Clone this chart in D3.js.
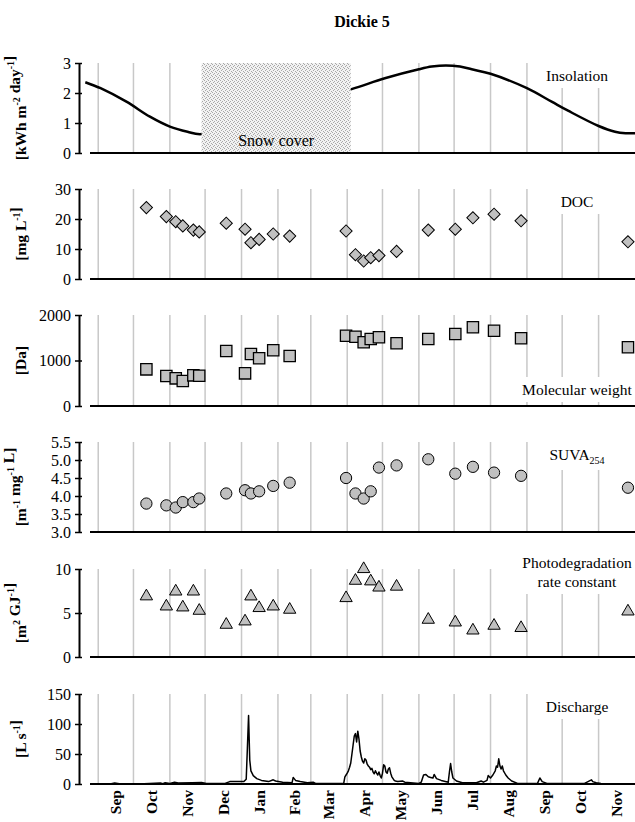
<!DOCTYPE html>
<html>
<head>
<meta charset="utf-8">
<script src="https://cdn.jsdelivr.net/npm/d3@7"></script>
<style>
body { margin: 0; background: #fff; }
text { font-family: "Times New Roman", "Liberation Serif", serif; }
</style>
</head>
<body>
<div id="chart"></div>
<script>
// ---- data ----
var title = "Dickie 5"
var monthLabels = ["Sep","Oct","Nov","Dec","Jan","Feb","Mar","Apr","May","Jun","Jul","Aug","Sep","Oct","Nov"]

// insolation [kWh m-2 day-1] (hidden under the snow box in winter)
var insolationDates = ["2004-08-21","2004-09-03","2004-09-25","2004-10-15","2004-11-01","2004-11-16","2004-11-28",
  "2005-04-04","2005-05-03","2005-06-01","2005-06-12","2005-06-24","2005-07-06","2005-07-16","2005-08-01","2005-09-01",
  "2005-09-22","2005-10-06","2005-11-01","2005-11-15","2005-11-24","2005-12-02"]
var insolation = [2.36, 2.16, 1.71, 1.21, 0.88, 0.71, 0.63,
  2.12, 2.49, 2.79, 2.88, 2.92, 2.88, 2.79, 2.64, 2.16,
  1.71, 1.41, 0.90, 0.71, 0.66, 0.66]
var snowCover = ["2004-11-28", "2005-04-04"]

// sampling dates shared by DOC, MW, SUVA and photodegradation
var sampleDates = ["2004-10-12","2004-10-29","2004-11-06","2004-11-12","2004-11-21","2004-11-26","2004-12-19",
  "2005-01-04","2005-01-09","2005-01-16","2005-01-28","2005-02-11","2005-03-31","2005-04-08","2005-04-15",
  "2005-04-21","2005-04-28","2005-05-13","2005-06-09","2005-07-02","2005-07-17","2005-08-04","2005-08-27","2005-11-26"]
var doc = [23.8, 20.8, 19.1, 17.7, 16.3, 15.7, 18.6, 16.6, 12.1, 13.2, 15.0, 14.3,
  16.0, 8.1, 6.0, 7.1, 7.8, 9.2, 16.3, 16.6, 20.4, 21.6, 19.4, 12.4]
var molWeight = [806, 659, 608, 550, 674, 666, 1209, 718, 1143, 1048, 1224, 1099,
  1545, 1523, 1400, 1473, 1510, 1378, 1473, 1582, 1730, 1655, 1488, 1290]
var suva = [3.79, 3.74, 3.68, 3.83, 3.83, 3.93, 4.07, 4.16, 4.07, 4.13, 4.28, 4.37,
  4.50, 4.07, 3.93, 4.13, 4.79, 4.85, 5.02, 4.62, 4.81, 4.65, 4.56, 4.23]
var photoRate = [6.9, 5.75, 7.45, 5.64, 7.45, 5.26, 3.67, 4.05, 6.89, 5.57, 5.75, 5.38,
  6.7, 8.67, 10.0, 8.6, 7.9, 8.0, 4.24, 3.93, 3.02, 3.56, 3.30, 5.18]

// discharge [L s-1]
var discharge = [
  ["2004-08-25",0],["2004-09-12",0.5],["2004-09-15",1.5],["2004-09-19",0.5],["2004-10-10",0.5],["2004-10-24",1.5],
  ["2004-10-26",0.5],["2004-10-28",2],["2004-11-01",1],["2004-11-05",3],["2004-11-08",1.5],["2004-11-20",2],
  ["2004-11-28",2.5],["2004-12-02",1],["2004-12-18",1],["2004-12-22",4],["2005-01-03",4],["2005-01-05",8],
  ["2005-01-06",60],["2005-01-07",114],["2005-01-08",40],["2005-01-09",22],["2005-01-11",14],["2005-01-14",9],
  ["2005-01-18",6],["2005-01-24",4],["2005-01-28",7],["2005-01-30",5],["2005-02-05",3],["2005-02-13",2],
  ["2005-02-14",11],["2005-02-16",6],["2005-02-20",4],["2005-02-26",2],["2005-03-03",3],["2005-03-05",1],
  ["2005-03-29",1],["2005-03-30",12],["2005-03-31",15],["2005-04-01",18],["2005-04-02",22],["2005-04-03",28],
  ["2005-04-04",35],["2005-04-05",50],["2005-04-06",65],["2005-04-07",80],["2005-04-08",84],["2005-04-09",70],
  ["2005-04-10",88],["2005-04-11",75],["2005-04-12",55],["2005-04-13",45],["2005-04-14",38],["2005-04-15",35],
  ["2005-04-16",42],["2005-04-17",40],["2005-04-18",33],["2005-04-19",30],["2005-04-20",28],["2005-04-21",24],
  ["2005-04-22",26],["2005-04-23",20],["2005-04-24",17],["2005-04-25",22],["2005-04-26",18],["2005-04-27",15],
  ["2005-04-28",20],["2005-04-29",14],["2005-04-30",10],["2005-05-01",18],["2005-05-02",32],["2005-05-03",30],
  ["2005-05-04",20],["2005-05-05",18],["2005-05-06",25],["2005-05-07",27],["2005-05-08",18],["2005-05-09",12],
  ["2005-05-10",9],["2005-05-11",6],["2005-05-12",5],["2005-05-14",4],["2005-05-18",5],["2005-05-20",3],
  ["2005-06-01",1],["2005-06-03",3],["2005-06-05",15],["2005-06-07",16],["2005-06-09",12],["2005-06-11",11],
  ["2005-06-13",10],["2005-06-14",16],["2005-06-16",9],["2005-06-20",6],["2005-06-26",3],["2005-06-27",20],
  ["2005-06-28",34],["2005-06-29",20],["2005-06-30",10],["2005-07-03",5],["2005-07-08",2],["2005-07-20",2],
  ["2005-07-24",5],["2005-07-26",3],["2005-07-29",6],["2005-07-30",14],["2005-08-01",10],["2005-08-03",15],
  ["2005-08-05",22],["2005-08-06",30],["2005-08-07",28],["2005-08-08",42],["2005-08-09",30],["2005-08-10",25],
  ["2005-08-11",30],["2005-08-12",22],["2005-08-14",15],["2005-08-16",10],["2005-08-19",5],["2005-08-24",1],
  ["2005-09-10",1],["2005-09-12",10],["2005-09-14",4],["2005-09-18",1],["2005-10-20",1],["2005-10-23",4],
  ["2005-10-25",6],["2005-10-26",7],["2005-10-27",4],["2005-10-30",2],["2005-11-03",1]
]

// axis titles: [text, superscript?] pieces
var unitInsolation = [["[kWh m"],["-2",1],[" day"],["-1",1],["]"]]
var unitDoc = [["[mg L"],["-1",1],["]"]]
var unitMw = [["[Da]"]]
var unitSuva = [["[m"],["-1",1],[" mg"],["-1",1],[" L]"]]
var unitPhoto = [["[m"],["2",1],[" GJ"],["-1",1],["]"]]
var unitDischarge = [["[L s"],["-1",1],["]"]]

var parse = d3.timeParse("%Y-%m-%d")
var serif = "'Times New Roman', 'Liberation Serif', serif"

// ---- layout ----
var width = 635, height = 822
var axisX = 79

var svg = d3.select("#chart").append("svg")
    .attr("width", width)
    .attr("height", height)
    .attr("font-family", serif)

var x = d3.scaleTime()
    .domain([parse("2004-08-25"), parse("2005-12-02")])
    .range([90, 635])

var gridMonths = d3.timeMonth.range(parse("2004-09-01"), parse("2005-11-02"))

// stipple used for the snow cover box
var defs = svg.append("defs")
var pat = defs.append("pattern")
    .attr("id", "snow")
    .attr("width", 4).attr("height", 4)
    .attr("patternUnits", "userSpaceOnUse")
pat.append("rect").attr("width", 4).attr("height", 4).attr("fill", "#f2f2f2")
pat.selectAll("dot")
    .data([[0,0],[2,1],[1,2],[3,3]])
    .enter().append("rect")
    .attr("x", d => d[0]).attr("y", d => d[1])
    .attr("width", 1).attr("height", 1)
    .attr("fill", "#a8a8a8")

svg.append("text")
    .attr("x", 362).attr("y", 27)
    .attr("text-anchor", "middle")
    .attr("font-weight", "bold")
    .attr("font-size", 16)
    .text(title)

var panels = [
  {id: "ins", top: 63, bottom: 153, domain: [0, 3], ticks: [0, 1, 2, 3], fmt: d3.format("d"),
   unit: unitInsolation, label: ["Insolation"], ly: 81},
  {id: "doc", top: 189, bottom: 279, domain: [0, 30], ticks: [0, 10, 20, 30], fmt: d3.format("d"),
   unit: unitDoc, label: ["DOC"], ly: 207, values: doc, shape: "diamond"},
  {id: "mw", top: 315, bottom: 406, domain: [0, 2000], ticks: [0, 1000, 2000], fmt: d3.format("d"),
   unit: unitMw, label: ["Molecular weight"], ly: 395, values: molWeight, shape: "square"},
  {id: "suva", top: 442, bottom: 532, domain: [3, 5.5], ticks: [3, 3.5, 4, 4.5, 5, 5.5], fmt: d3.format(".1f"),
   unit: unitSuva, label: ["SUVA"], ly: 460, values: suva, shape: "circle"},
  {id: "photo", top: 569, bottom: 657, domain: [0, 10], ticks: [0, 5, 10], fmt: d3.format("d"),
   unit: unitPhoto, label: ["Photodegradation", "rate constant"], ly: 568, values: photoRate, shape: "triangle"},
  {id: "dis", top: 694, bottom: 784, domain: [0, 150], ticks: [0, 50, 100, 150], fmt: d3.format("d"),
   unit: unitDischarge, label: ["Discharge"], ly: 712}
]

var symbols = {
  diamond: d3.symbol(d3.symbolSquare, 74),
  square: d3.symbol(d3.symbolSquare, 128),
  circle: d3.symbol(d3.symbolCircle, 100),
  triangle: d3.symbol(d3.symbolTriangle, 66)
}

panels.forEach(function(p) {
  var y = d3.scaleLinear().domain(p.domain).range([p.bottom, p.top])
  var g = svg.append("g").attr("class", "panel-" + p.id)

  // month grid lines
  g.append("g").selectAll("line")
    .data(gridMonths)
    .enter().append("line")
      .attr("x1", d => x(d)).attr("x2", d => x(d))
      .attr("y1", y(p.domain[1])).attr("y2", y(p.domain[0]))
      .attr("stroke", "#c8c8c8")
      .attr("stroke-width", 1.5)

  // insolation curve + snow box go under the label
  if (p.id == "ins") {
    var line = d3.line()
        .curve(d3.curveCatmullRom.alpha(0.5))
        .x((d, i) => x(parse(insolationDates[i])))
        .y(d => y(d))
    g.append("path")
        .attr("d", line(insolation))
        .attr("fill", "none")
        .attr("stroke", "#000")
        .attr("stroke-width", 2.5)
    var s0 = x(parse(snowCover[0])), s1 = x(parse(snowCover[1]))
    g.append("rect")
        .attr("x", s0).attr("y", y(p.domain[1]))
        .attr("width", s1 - s0).attr("height", y(p.domain[0]) - y(p.domain[1]))
        .attr("fill", "url(#snow)")
    g.append("text")
        .attr("x", (s0 + s1) / 2).attr("y", 146)
        .attr("text-anchor", "middle")
        .attr("font-size", 16)
        .text("Snow cover")
  }

  // panel label with white box behind it
  var lg = g.append("g")
  var lt = lg.append("text")
      .attr("x", 577).attr("y", p.ly)
      .attr("text-anchor", "middle")
      .attr("font-size", 15.5)
  p.label.forEach(function(s, i) {
    lt.append("tspan").attr("x", 577).attr("dy", i == 0 ? 0 : 19).text(s)
  })
  if (p.id == "suva") lt.append("tspan").attr("dy", 4).attr("font-size", 10).text("254")
  var bb = lt.node().getBBox()
  lg.insert("rect", "text")
      .attr("x", bb.x - 7).attr("y", bb.y - 4)
      .attr("width", bb.width + 14).attr("height", bb.height + 8)
      .attr("fill", "#fff")

  // bottom line
  g.append("line")
      .attr("x1", x.range()[0]).attr("x2", x.range()[1])
      .attr("y1", y(p.domain[0])).attr("y2", y(p.domain[0]))
      .attr("stroke", "#000")
      .attr("stroke-width", 2)

  // y axis
  var ax = g.append("g")
      .attr("transform", "translate(" + axisX + ",0)")
      .call(d3.axisLeft(y).tickValues(p.ticks).tickFormat(p.fmt)
              .tickSize(4).tickSizeOuter(0).tickPadding(4))
  ax.attr("font-family", serif).attr("font-size", 16)
  ax.select(".domain").attr("stroke", "#000").attr("stroke-width", 2)
  ax.selectAll(".tick line").attr("x1", 3).attr("stroke-width", 1.5)
  ax.selectAll("text").attr("fill", "#000")

  // axis title
  var ut = g.append("text")
      .attr("transform", "translate(21," + ((p.top + p.bottom) / 2) + ") rotate(-90)")
      .attr("text-anchor", "middle")
      .attr("dy", "0.35em")
      .attr("font-weight", "bold")
      .attr("font-size", 15.5)
  p.unit.forEach(function(u) {
    if (u[1]) {
      ut.append("tspan").attr("dy", -6).attr("font-size", 10).text(u[0])
      ut.append("tspan").attr("dy", 6).text("")
    } else {
      ut.append("tspan").text(u[0])
    }
  })

  // marks
  if (p.id == "dis") {
    var dline = d3.line()
        .x(d => x(parse(d[0])))
        .y(d => y(d[1]))
    g.append("path")
        .attr("d", dline(discharge))
        .attr("fill", "none")
        .attr("stroke", "#000")
        .attr("stroke-width", 1.5)
        .attr("stroke-linejoin", "round")
  } else if (p.values) {
    g.append("g").selectAll("path")
      .data(p.values)
      .enter().append("path")
        .attr("d", symbols[p.shape])
        .attr("transform", (d, i) => "translate(" + x(parse(sampleDates[i])) + "," + y(d) + ")" +
              (p.shape == "diamond" ? " rotate(45)" : ""))
        .attr("fill", "#c0c0c0")
        .attr("stroke", "#000")
        .attr("stroke-width", p.shape == "square" ? 1.3 : 1)
  }
})

// month labels under the last panel
svg.append("g").selectAll("text")
  .data(gridMonths)
  .enter().append("text")
    .attr("transform", (d, i) => "translate(" + ((x(d) + x(d3.timeMonth.offset(d, 1))) / 2) + ",790) rotate(-90)")
    .attr("text-anchor", "end")
    .attr("dy", "0.35em")
    .attr("font-weight", "bold")
    .attr("font-size", 15.5)
    .text((d, i) => monthLabels[i])
</script>
</body>
</html>
